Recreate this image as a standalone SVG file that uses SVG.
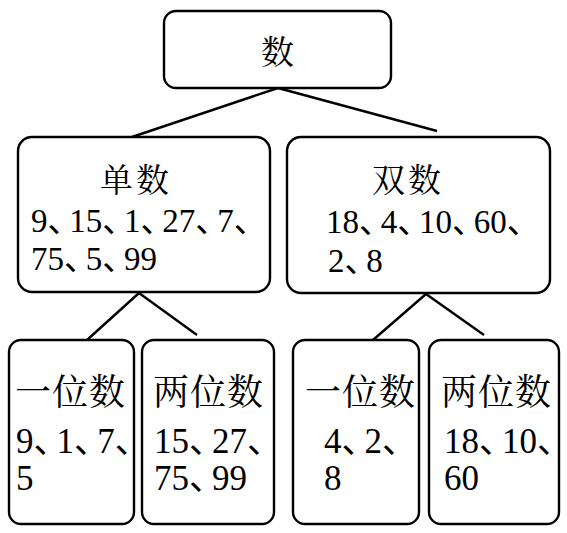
<svg xmlns="http://www.w3.org/2000/svg" width="567" height="533" viewBox="0 0 567 533">
<style>
.box{fill:#fff;stroke:#000;stroke-width:2.4}
.ln{stroke:#000;stroke-width:2.4;fill:none}
text{font-family:"Liberation Serif","Times New Roman",serif;fill:#000}
.h,.hb{font-family:"Noto Serif CJK SC","Noto Sans CJK SC",sans-serif}
.h{font-size:33px;letter-spacing:3px}
.hb{font-size:36px;letter-spacing:1px}
.n{font-size:33px}
.nb{font-size:35px}
.c{font-family:"Noto Sans CJK SC",sans-serif;letter-spacing:-0.34em}
</style>
<rect width="567" height="533" fill="#fff"/>
<g id="connectors">
<line class="ln" x1="278" y1="88" x2="132" y2="137"/>
<line class="ln" x1="278" y1="88" x2="437" y2="131"/>
<line class="ln" x1="139" y1="293" x2="87" y2="340"/>
<line class="ln" x1="139" y1="293" x2="197" y2="335"/>
<line class="ln" x1="426" y1="294" x2="373" y2="340"/>
<line class="ln" x1="426" y1="294" x2="484" y2="335"/>
</g>
<g id="root">
<rect class="box" x="164" y="11" width="227" height="77" rx="12"/>
<text class="h" x="261" y="64">数</text>
</g>
<g id="odd">
<rect class="box" x="18" y="137" width="252" height="155" rx="14"/>
<text class="h" x="100" y="192">单数</text>
<text class="n" x="31" y="232">9<tspan class="c">、</tspan>15<tspan class="c">、</tspan>1<tspan class="c">、</tspan>27<tspan class="c">、</tspan>7<tspan class="c">、</tspan></text>
<text class="n" x="31" y="270">75<tspan class="c">、</tspan>5<tspan class="c">、</tspan>99</text>
</g>
<g id="even">
<rect class="box" x="287" y="137" width="263" height="156" rx="14"/>
<text class="h" x="372" y="192">双数</text>
<text class="n" x="326" y="233">18<tspan class="c">、</tspan>4<tspan class="c">、</tspan>10<tspan class="c">、</tspan>60<tspan class="c">、</tspan></text>
<text class="n" x="328" y="272">2<tspan class="c">、</tspan>8</text>
</g>
<g id="odd-one">
<rect class="box" x="9" y="340" width="125" height="184" rx="12"/>
<text class="hb" x="15" y="405">一位数</text>
<text class="nb" x="16" y="453">9<tspan class="c">、</tspan>1<tspan class="c">、</tspan>7<tspan class="c">、</tspan></text>
<text class="nb" x="16" y="490">5</text>
</g>
<g id="odd-two">
<rect class="box" x="142" y="340" width="132" height="184" rx="12"/>
<text class="hb" x="153" y="405">两位数</text>
<text class="nb" x="154" y="453">15<tspan class="c">、</tspan>27<tspan class="c">、</tspan></text>
<text class="nb" x="154" y="490">75<tspan class="c">、</tspan>99</text>
</g>
<g id="even-one">
<rect class="box" x="293" y="340" width="126" height="184" rx="12"/>
<text class="hb" x="305" y="405">一位数</text>
<text class="nb" x="324" y="453">4<tspan class="c">、</tspan>2<tspan class="c">、</tspan></text>
<text class="nb" x="324" y="490">8</text>
</g>
<g id="even-two">
<rect class="box" x="429" y="340" width="130" height="184" rx="12"/>
<text class="hb" x="441" y="405">两位数</text>
<text class="nb" x="444" y="453">18<tspan class="c">、</tspan>10<tspan class="c">、</tspan></text>
<text class="nb" x="444" y="490">60</text>
</g>
</svg>
